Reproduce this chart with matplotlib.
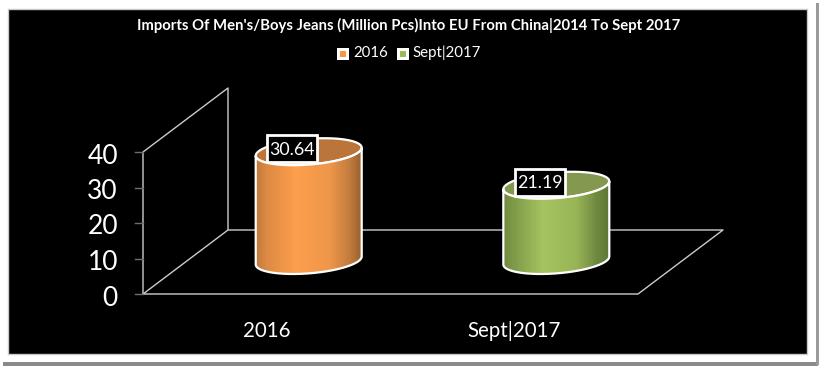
import numpy as np
import matplotlib
matplotlib.use("Agg")
import matplotlib.pyplot as plt
from matplotlib.patches import Polygon, Rectangle, PathPatch
from matplotlib.path import Path
from matplotlib.colors import LinearSegmentedColormap

# data
categories = ["2016", "Sept|2017"]
values = [30.64, 21.19]
y_ticks = [0, 10, 20, 30, 40]
title = "Imports Of Men's/Boys Jeans (Million Pcs)Into EU From China|2014 To Sept 2017"

# colours per bar
stops = [0, 0.1, 0.38, 0.7, 0.88, 1]
ramp = [["#bf7a3c", "#dd8a44", "#fd9f4c", "#ee964a", "#c47d3f", "#99602e"],
        ["#6f8a3f", "#7f9a48", "#a6c460", "#98b456", "#6f8a3f", "#5f7835"]]
inner = ["#bb7439", "#84994f"]
swatch = ["#f79646", "#9bbb59"]

plt.rcParams['font.family'] = ['Lato', 'DejaVu Sans']

W, H = 820, 367
fig = plt.figure(figsize=(W/100, H/100), dpi=100, facecolor="white")
ax = fig.add_axes([0, 0, 1, 1])
ax.axis("off")

# picture frame with shadow
ax.add_patch(Rectangle((3, 362), 815, 4, color="#8a8a8a", lw=0, zorder=0))
ax.add_patch(Rectangle((816, 3), 4, 362, color="#9a9a9a", lw=0, zorder=0))
ax.add_patch(Rectangle((0, 0), 816, 362, color="#ffffff", lw=0, zorder=0.5))
ax.add_patch(Rectangle((8.5, 8.5), 799, 345, fc="black", ec="#c8c8c8", lw=1, zorder=1))

# 3d axis box
x0, x1 = 143, 638
dx, dy = 85, -64
y_base = 294
per_unit = (294 - 152) / 40
line_col = "#cccccc"
y_top = y_base - max(y_ticks) * per_unit


def box_line(xs, ys):
    ax.plot(xs, ys, color=line_col, lw=1, zorder=2, solid_capstyle="butt")


box_line([x0, x1, x1 + dx, x0 + dx, x0], [y_base, y_base, y_base + dy, y_base + dy, y_base])
box_line([x0, x0, x0 + dx, x0 + dx], [y_base, y_top, y_top + dy, y_base + dy])
for t in y_ticks:
    yy = y_base - t * per_unit
    ax.plot([x0 - 8, x0], [yy, yy], color="#707070", lw=1, zorder=2)
    ax.text(x0 - 25, yy + 4, str(t), color="white", fontsize=19, ha="right", va="center", zorder=5)

# cylinders
centers = [308.7, 556.3]
bar_w = 106
ry = 12.9
tilt = 4
base_c = 260.5
t_half = np.linspace(0, np.pi, 80)
t_full = np.linspace(0, 2 * np.pi, 160)
cmaps = [LinearSegmentedColormap.from_list("c%d" % i, list(zip(stops, r))) for i, r in enumerate(ramp)]
grad = np.linspace(0, 1, 256).reshape(1, -1)
rx = bar_w / 2


def rim(cx, cy, t):
    # ellipse sheared a little, the right side sits higher
    xs = cx + rx * np.cos(t)
    ys = cy + ry * np.sin(t) - tilt * np.cos(t)
    return np.column_stack([xs, ys])


for i, v in enumerate(values):
    cx = centers[i]
    top_c = base_c - v * per_unit
    ax.add_patch(Polygon(rim(cx, top_c, t_full), closed=True, fc=inner[i], ec="white", lw=1.6, zorder=3))
    verts = np.vstack([rim(cx, top_c, t_half), rim(cx, base_c, t_half[::-1]), rim(cx, top_c, t_half[:1])])
    body = Path(verts)
    im = ax.imshow(grad, cmap=cmaps[i], extent=[cx - rx, cx + rx, base_c + 20, top_c - 20],
                   aspect="auto", zorder=3.2, interpolation="bilinear")
    im.set_clip_path(PathPatch(body, transform=ax.transData))
    ax.add_patch(PathPatch(body, fc="none", ec="white", lw=1.6, zorder=3.4))
    # data label box
    lx, ly = cx - 16.5, top_c - 2.8
    ax.add_patch(Rectangle((lx - 25, ly - 13.5), 50, 27, fc="black", ec="white", lw=2, zorder=6))
    ax.text(lx, ly + 1, "%.2f" % v, color="white", fontsize=12.8, ha="center", va="center", zorder=7)

# category labels sit under the front edge of the floor
cat_x = [x0 + (x1 - x0) * 0.25, x0 + (x1 - x0) * 0.75]
for i, c in enumerate(categories):
    ax.text(cat_x[i], 331, c, color="white", fontsize=14.8, ha="center", va="center", zorder=5)

# title
ax.text(409, 25, title, color="white", fontsize=10.7, fontweight="bold", ha="center", va="center", zorder=5)

# legend
leg_x = [337, 397]
leg_tx = [353, 412]
for i, c in enumerate(categories):
    ax.add_patch(Rectangle((leg_x[i], 48), 12, 12, fc="white", ec="none", zorder=5))
    ax.add_patch(Rectangle((leg_x[i] + 3, 51), 6, 6, fc=swatch[i], ec="none", zorder=6))
    ax.text(leg_tx[i], 53, c, color="white", fontsize=10.8, ha="left", va="center", zorder=6)

ax.set_xlim(0, W)
ax.set_ylim(H, 0)

fig.savefig("out.png", dpi=100, facecolor="white")
